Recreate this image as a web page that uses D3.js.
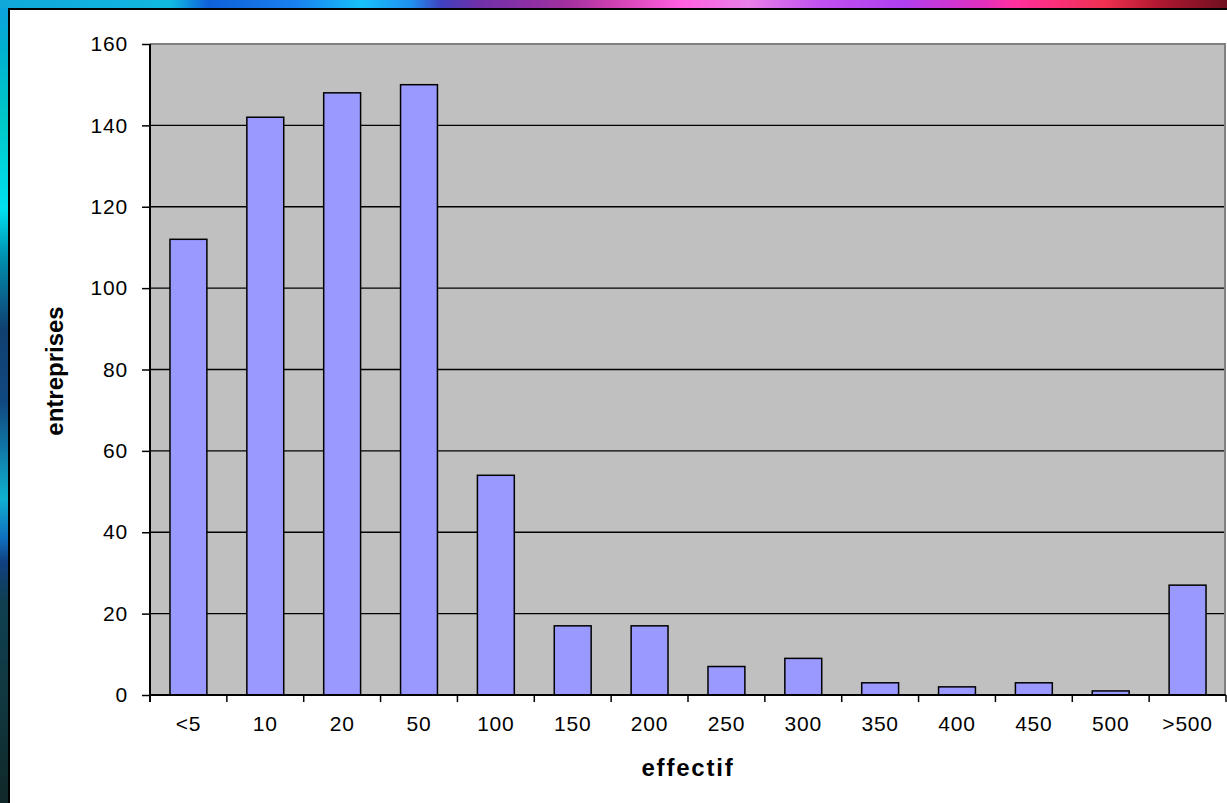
<!DOCTYPE html>
<html>
<head>
<meta charset="utf-8">
<script src="https://cdn.jsdelivr.net/npm/d3@7"></script>
<style>
  html, body { margin: 0; padding: 0; background: #fff; }
  svg { display: block; }
  text { font-family: "Liberation Sans", Arial, sans-serif; fill: #000; }
</style>
</head>
<body>
<svg id="chart" width="1227" height="803"></svg>
<script>
// Company counts by workforce bracket
const categories = ["<5", "10", "20", "50", "100", "150", "200", "250", "300", "350", "400", "450", "500", ">500"];
const companies = [112, 142, 148, 150, 54, 17, 17, 7, 9, 3, 2, 3, 1, 27];
const yTicks = [0, 20, 40, 60, 80, 100, 120, 140, 160];
const xTitle = "effectif";
const yTitle = "entreprises";

const W = 1227, H = 803;
const plot = { left: 150, top: 44, right: 1226, bottom: 695 };

const svg = d3.select("#chart");
const defs = svg.append("defs");

// Decorative frame gradients
const topGrad = defs.append("linearGradient").attr("id", "topGrad")
  .attr("x1", "0").attr("y1", "0").attr("x2", "1").attr("y2", "0");
[[0, "#10a8d8"], [0.14, "#10b8e0"], [0.17, "#1060d8"], [0.24, "#1880f0"], [0.295, "#18c0f8"],
 [0.335, "#2090f0"], [0.36, "#4040c0"], [0.39, "#7030a8"], [0.46, "#a030a0"], [0.5, "#d040b0"],
 [0.555, "#ff60e0"], [0.61, "#e880e8"], [0.67, "#c050f0"], [0.735, "#b040f0"], [0.8, "#e030c0"],
 [0.825, "#ff30a0"], [0.9, "#f03050"], [0.945, "#b01830"], [1, "#701020"]]
  .forEach(([o, c]) => topGrad.append("stop").attr("offset", o).attr("stop-color", c));

const leftGrad = defs.append("linearGradient").attr("id", "leftGrad")
  .attr("x1", "0").attr("y1", "0").attr("x2", "0").attr("y2", "1");
[[0, "#10a0e0"], [0.06, "#00b0d0"], [0.15, "#00c8c8"], [0.26, "#00e0f0"], [0.32, "#0090b0"],
 [0.41, "#104070"], [0.5, "#104880"], [0.55, "#1070a0"], [0.62, "#10b0d0"], [0.67, "#1070c0"],
 [0.7, "#104080"], [0.75, "#104050"], [0.87, "#103840"], [1, "#102828"]]
  .forEach(([o, c]) => leftGrad.append("stop").attr("offset", o).attr("stop-color", c));

svg.append("rect").attr("x", 0).attr("y", 0).attr("width", 8).attr("height", H).attr("fill", "url(#leftGrad)");
svg.append("rect").attr("x", 0).attr("y", 0).attr("width", W).attr("height", 8).attr("fill", "url(#topGrad)");
svg.append("line").attr("x1", 8).attr("x2", W).attr("y1", 9).attr("y2", 9).attr("stroke", "#000").attr("stroke-width", 2);
svg.append("line").attr("x1", 9).attr("x2", 9).attr("y1", 8).attr("y2", H).attr("stroke", "#000").attr("stroke-width", 2);

// Scales
const x = d3.scaleBand().domain(categories).range([plot.left, plot.right])
  .paddingInner(0.52).paddingOuter(0.26);
const y = d3.scaleLinear().domain([0, 160]).range([plot.bottom, plot.top]);

// Plot area
svg.append("rect").attr("x", plot.left).attr("y", plot.top)
  .attr("width", plot.right - plot.left).attr("height", plot.bottom - plot.top)
  .attr("fill", "#c0c0c0");

// Horizontal gridlines
svg.append("g").selectAll("line").data(yTicks.filter(v => v > 0 && v < 160)).join("line")
  .attr("x1", plot.left).attr("x2", plot.right)
  .attr("y1", d => y(d)).attr("y2", d => y(d))
  .attr("stroke", "#000").attr("stroke-width", 1.3);

// Top and right borders of the plot area
svg.append("line").attr("x1", plot.left).attr("x2", plot.right)
  .attr("y1", y(160)).attr("y2", y(160)).attr("stroke", "#808080").attr("stroke-width", 2);
svg.append("line").attr("x1", plot.right - 1).attr("x2", plot.right - 1)
  .attr("y1", plot.top).attr("y2", plot.bottom).attr("stroke", "#808080").attr("stroke-width", 2);

// Bars
svg.append("g").selectAll("rect").data(companies).join("rect")
  .attr("x", (d, i) => x(categories[i]))
  .attr("y", d => y(d))
  .attr("width", x.bandwidth())
  .attr("height", d => y(0) - y(d))
  .attr("fill", "#9999ff")
  .attr("stroke", "#000").attr("stroke-width", 1.5);

// Y axis
const yAxis = svg.append("g").attr("transform", `translate(${plot.left},0)`)
  .call(d3.axisLeft(y).tickValues(yTicks).tickSize(8).tickPadding(14).tickFormat(d3.format("d")));
yAxis.select(".domain").remove();
yAxis.selectAll(".tick line").attr("stroke", "#000").attr("stroke-width", 1.5);
yAxis.selectAll(".tick text").attr("font-size", 21).style("letter-spacing", "0.8px")
  .attr("font-family", "Liberation Sans, Arial, sans-serif").attr("fill", "#000");
svg.append("line").attr("x1", plot.left).attr("x2", plot.left)
  .attr("y1", plot.top).attr("y2", plot.bottom + 7).attr("stroke", "#000").attr("stroke-width", 2);

// X axis: tick marks sit on category boundaries, labels at band centres
const step = x.step();
const boundaries = d3.range(categories.length + 1).map(i => plot.left + i * step);
svg.append("line").attr("x1", plot.left).attr("x2", plot.right)
  .attr("y1", plot.bottom).attr("y2", plot.bottom).attr("stroke", "#000").attr("stroke-width", 2);
svg.append("g").selectAll("line").data(boundaries).join("line")
  .attr("x1", d => d).attr("x2", d => d)
  .attr("y1", plot.bottom).attr("y2", plot.bottom + 7)
  .attr("stroke", "#000").attr("stroke-width", 1.5);
svg.append("g").selectAll("text").data(categories).join("text")
  .attr("x", d => x(d) + x.bandwidth() / 2)
  .attr("y", 731)
  .attr("text-anchor", "middle")
  .attr("font-size", 21).style("letter-spacing", "0.8px")
  .text(d => d);

// Axis titles
svg.append("text").attr("x", 688).attr("y", 776).attr("text-anchor", "middle")
  .attr("font-size", 24).attr("font-weight", "bold").style("letter-spacing", "1.8px")
  .text(xTitle);
svg.append("text").attr("transform", "translate(63,371) rotate(-90)").attr("text-anchor", "middle")
  .attr("font-size", 24).attr("font-weight", "bold")
  .text(yTitle);
</script>
</body>
</html>
